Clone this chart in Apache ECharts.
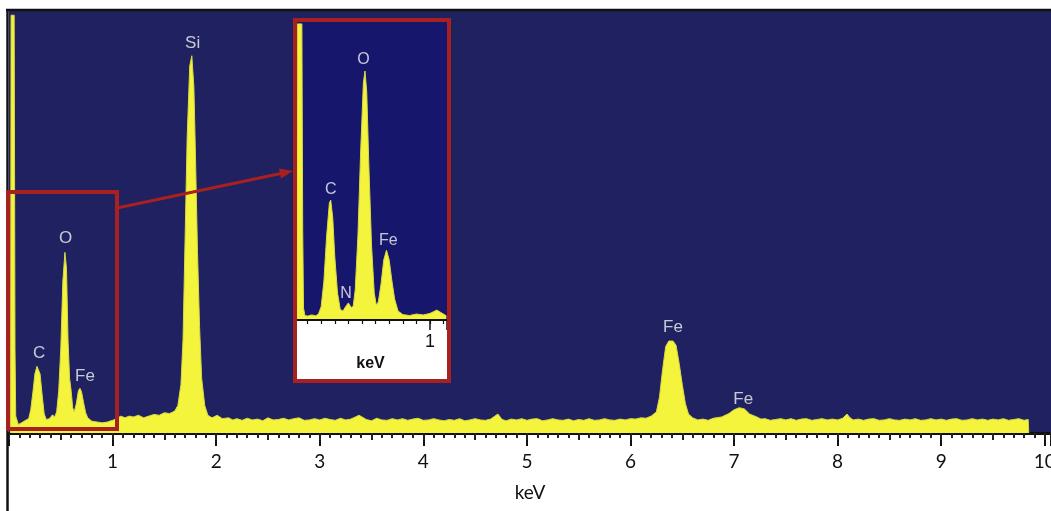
<!DOCTYPE html>
<html>
<head>
<meta charset="utf-8">
<script src="https://cdn.jsdelivr.net/npm/echarts@6/dist/echarts.min.js"></script>
<style>
  html, body { margin: 0; padding: 0; background: #fff; }
  #chart { width: 1051px; height: 511px; }
</style>
</head>
<body>
<div id="chart"></div>
<script>
// EDS spectrum, [keV, counts], counts (0..1000 scale)
var mainSpectrum = [
  [0.015,0],[0.02,990],[0.05,990],[0.058,200],[0.065,40],[0.09,20],[0.12,24],[0.16,30],[0.19,34],
  [0.21,55],[0.23,95],[0.25,140],[0.27,158],[0.285,162],[0.30,140],[0.32,90],[0.34,45],[0.36,32],
  [0.39,34],[0.42,43],[0.44,38],[0.46,50],[0.48,100],[0.50,200],[0.52,360],[0.54,428],[0.555,390],
  [0.57,220],[0.585,130],[0.60,100],[0.615,60],[0.63,50],[0.65,70],[0.67,100],[0.685,106],[0.70,98],
  [0.72,72],[0.74,48],[0.76,36],[0.80,28],[0.85,26],[0.90,24],[0.95,26],[1.00,30],[1.04,34],[1.08,40],
  [1.12,36],[1.16,40],[1.20,38],[1.25,42],[1.30,36],[1.35,40],[1.40,44],[1.45,42],[1.50,48],[1.55,46],
  [1.60,52],[1.63,65],[1.66,115],[1.68,220],[1.70,460],[1.72,700],[1.745,870],[1.765,894],[1.785,820],
  [1.80,660],[1.82,430],[1.84,250],[1.86,130],[1.89,65],[1.92,42],[1.96,36],[2.01,42],[2.06,34],
  [2.12,36],[2.16,31],[2.2,34],[2.25,30],[2.3,35],[2.35,31],[2.4,33],[2.45,29],[2.5,36],[2.55,31],
  [2.6,32],[2.65,35],[2.7,31],[2.75,34],[2.8,36],[2.85,30],[2.9,31],[2.95,34],[3.0,31],[3.05,35],
  [3.1,32],[3.15,30],[3.2,35],[3.25,31],[3.3,33],[3.38,42],[3.45,32],[3.5,29],[3.55,35],[3.6,31],
  [3.65,30],[3.7,34],[3.75,31],[3.8,34],[3.85,30],[3.9,33],[3.95,35],[4.0,30],[4.05,31],[4.1,34],
  [4.15,31],[4.2,29],[4.25,32],[4.3,30],[4.35,34],[4.4,29],[4.45,31],[4.5,34],[4.55,31],[4.6,30],
  [4.65,33],[4.72,45],[4.76,32],[4.8,29],[4.85,33],[4.9,31],[4.95,34],[5.0,30],[5.05,33],[5.1,34],
  [5.15,29],[5.2,31],[5.25,34],[5.3,31],[5.35,30],[5.4,33],[5.45,29],[5.5,32],[5.55,30],[5.6,34],
  [5.65,30],[5.7,31],[5.75,34],[5.8,31],[5.85,30],[5.9,33],[5.95,31],[6.0,34],[6.05,33],[6.1,36],
  [6.15,35],[6.2,40],[6.25,50],[6.28,85],[6.31,150],[6.34,205],[6.37,218],[6.41,218],[6.44,208],
  [6.47,165],[6.50,115],[6.53,70],[6.56,45],[6.60,36],[6.65,31],[6.7,33],[6.75,30],[6.8,35],[6.88,38],
  [6.95,46],[7.0,55],[7.05,60],[7.10,57],[7.15,45],[7.22,38],[7.26,33],[7.3,34],[7.35,30],[7.4,32],
  [7.45,34],[7.5,31],[7.55,34],[7.6,30],[7.65,33],[7.7,34],[7.75,30],[7.8,32],[7.85,34],[7.9,31],
  [7.95,33],[8.0,31],[8.05,35],[8.09,45],[8.12,36],[8.15,31],[8.2,33],[8.25,30],[8.3,33],[8.35,34],
  [8.4,30],[8.45,31],[8.5,34],[8.55,31],[8.6,30],[8.65,33],[8.7,31],[8.75,34],[8.8,30],[8.85,31],
  [8.9,34],[8.95,31],[9.0,33],[9.05,30],[9.1,33],[9.15,34],[9.2,30],[9.25,31],[9.3,34],[9.35,31],
  [9.4,33],[9.45,30],[9.5,33],[9.55,31],[9.6,34],[9.65,30],[9.7,32],[9.75,34],[9.8,30],[9.84,32],
  [9.845,0]
];

// inset: zoom of 0-1.1 keV
var insetSpectrum = [
  [0.02,0],[0.024,987],[0.058,987],[0.064,300],[0.07,40],[0.08,15],[0.10,13],[0.13,17],[0.16,14],
  [0.18,20],[0.20,45],[0.22,130],[0.24,280],[0.26,390],[0.27,400],[0.285,340],[0.30,210],[0.32,90],
  [0.34,35],[0.36,30],[0.38,45],[0.40,57],[0.42,42],[0.435,45],[0.45,100],[0.47,280],[0.49,560],
  [0.51,790],[0.522,830],[0.535,760],[0.55,520],[0.57,250],[0.59,90],[0.605,50],[0.62,60],[0.64,120],
  [0.66,200],[0.68,233],[0.70,200],[0.72,130],[0.74,70],[0.765,30],[0.80,18],[0.85,15],[0.90,20],
  [0.95,17],[1.00,22],[1.05,33],[1.08,25],[1.12,14]
];

// peak labels (label centre in keV / counts)
var peakNames  = ['Si', 'O', 'C', 'Fe', 'Fe', 'Fe'];
var peakEnergy = [1.773, 0.547, 0.29, 0.734, 6.41, 7.088];
var peakLabelY = [923, 462, 190, 134, 250, 80];

var insetNames  = ['O', 'C', 'N', 'Fe'];
var insetEnergy = [0.51, 0.27, 0.382, 0.693];
var insetLabelY = [867, 436, 89, 264];

var tickLabels = ['1', '2', '3', '4', '5', '6', '7', '8', '9', '10'];

var navy = '#1f2160';
var navyInset = '#15166c';
var yellow = '#f4f43c';
var red = '#a8201f';

function labelData(names, xs, ys) {
  return names.map(function (n, i) { return { name: n, value: [xs[i], ys[i]] }; });
}

var chart = echarts.init(document.getElementById('chart'));

chart.setOption({
  animation: false,
  grid: [
    { left: 9, right: 0, top: 11, bottom: 78, show: true, backgroundColor: navy, borderWidth: 0, z: 0,
      containLabel: false, outerBoundsMode: 'none' },
    { left: 294, top: 20, width: 153, height: 300, show: true, backgroundColor: navyInset, borderWidth: 0, z: 5,
      containLabel: false, outerBoundsMode: 'none' }
  ],
  xAxis: [
    {
      gridIndex: 0, type: 'value', position: 'bottom', min: 0, max: 10.06, interval: 1,
      axisLine: { lineStyle: { color: '#111', width: 3 } },
      axisTick: { length: 13, lineStyle: { color: '#111', width: 2 } },
      minorTick: { show: true, splitNumber: 10, length: 5, lineStyle: { color: '#222', width: 2 } },
      splitLine: { show: false },
      axisLabel: {
        margin: 19, color: '#111', fontFamily: 'Lato', fontSize: 19,
        formatter: function (v) { return v >= 1 ? tickLabels[Math.round(v) - 1] : ''; }
      },
      name: 'keV', nameLocation: 'middle', nameGap: 50,
      nameTextStyle: { color: '#111', fontFamily: 'Lato', fontSize: 19 }
    },
    {
      gridIndex: 0, type: 'value', position: 'bottom', min: 0, max: 10.06, interval: 0.5,
      axisLine: { show: false },
      axisTick: { length: 7, lineStyle: { color: '#222', width: 2 } },
      axisLabel: { show: false }, splitLine: { show: false }
    },
    {
      gridIndex: 1, type: 'value', position: 'bottom', min: 0, max: 1.125, interval: 0.1, z: 60,
      axisLine: { lineStyle: { color: '#111', width: 2 } },
      axisTick: { length: 4, lineStyle: { color: '#111', width: 1.2 } },
      axisLabel: { show: false }, splitLine: { show: false }
    },
    {
      gridIndex: 1, type: 'value', position: 'bottom', min: 0, max: 1.125, interval: 1, z: 60,
      axisLine: { show: false },
      axisTick: { length: 10, lineStyle: { color: '#111', width: 1.5 } },
      axisLabel: {
        margin: 13, color: '#111', fontFamily: 'Liberation Sans', fontSize: 18,
        formatter: function (v) { return v === 1 ? '1' : ''; }
      },
      splitLine: { show: false },
      name: 'keV', nameLocation: 'middle', nameGap: 34,
      nameTextStyle: { color: '#111', fontFamily: 'Liberation Sans', fontSize: 16, fontWeight: 'bold' }
    }
  ],
  yAxis: [
    { gridIndex: 0, type: 'value', min: 0, max: 1000, show: false },
    { gridIndex: 1, type: 'value', min: 0, max: 1000, show: false }
  ],
  series: [
    {
      type: 'line', xAxisIndex: 0, yAxisIndex: 0, data: mainSpectrum,
      showSymbol: false, z: 2,
      lineStyle: { color: '#d9d942', width: 1 },
      areaStyle: { color: yellow, opacity: 1 }
    },
    {
      type: 'line', xAxisIndex: 2, yAxisIndex: 1, data: insetSpectrum,
      showSymbol: false, z: 10,
      lineStyle: { color: '#d9d942', width: 1 },
      areaStyle: { color: yellow, opacity: 1 }
    },
    {
      type: 'scatter', xAxisIndex: 0, yAxisIndex: 0, symbolSize: 0, z: 20,
      data: labelData(peakNames, peakEnergy, peakLabelY),
      label: { show: true, position: 'inside', formatter: '{b}', color: '#f2f2f2', fontFamily: 'Liberation Sans', fontSize: 17 }
    },
    {
      type: 'scatter', xAxisIndex: 2, yAxisIndex: 1, symbolSize: 0, z: 20,
      data: labelData(insetNames, insetEnergy, insetLabelY),
      label: { show: true, position: 'inside', formatter: '{b}', color: '#f2f2f2', fontFamily: 'Liberation Sans', fontSize: 16 }
    }
  ],
  graphic: [
    // plot frame (top and left)
    { type: 'line', z: 100, shape: { x1: 6, y1: 10, x2: 1051, y2: 10 }, style: { stroke: '#111', lineWidth: 2.5 } },
    { type: 'line', z: 100, shape: { x1: 7.5, y1: 9, x2: 7.5, y2: 511 }, style: { stroke: '#111', lineWidth: 2.5 } },
    // inset: white axis strip and red frame
    { type: 'rect', z: 50, shape: { x: 294, y: 321, width: 153, height: 60 }, style: { fill: '#fff' } },
    { type: 'rect', z: 100, shape: { x: 295, y: 20, width: 154, height: 361 }, style: { fill: 'none', stroke: red, lineWidth: 4 } },
    // highlighted region in main spectrum
    { type: 'rect', z: 100, shape: { x: 8, y: 192, width: 109, height: 237 }, style: { fill: 'none', stroke: red, lineWidth: 4 } },
    // arrow to inset
    { type: 'line', z: 100, shape: { x1: 117, y1: 208, x2: 282, y2: 173.3 }, style: { stroke: red, lineWidth: 3 } },
    { type: 'polygon', z: 100, shape: { points: [[293, 171], [281, 178.6], [279, 168.4]] }, style: { fill: red } }
  ]
});
</script>
</body>
</html>
